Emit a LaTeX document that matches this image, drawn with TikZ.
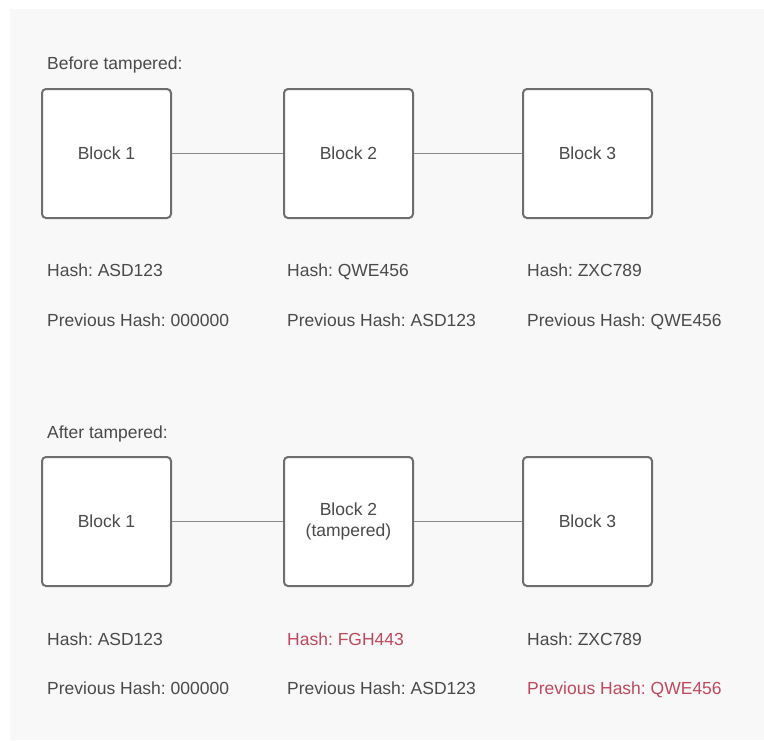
\documentclass[tikz,border=0pt]{standalone}
\usepackage{fontspec}
\setmainfont{Liberation Sans}
\frenchspacing
\definecolor{bgc}{HTML}{F8F8F8}
\definecolor{txt}{HTML}{4A4A4A}
\definecolor{edge}{HTML}{6E6E6E}
\definecolor{conn}{HTML}{8A8A8A}
\definecolor{redt}{HTML}{C0485C}
\tikzset{
  blockbox/.style={draw=edge, line width=2pt, fill=white, rounded corners=4pt,
    minimum width=129pt, minimum height=129pt, inner sep=0pt, anchor=north west,
    text=txt, align=center, font=\fontsize{17.5}{21}\selectfont},
  lbl/.style={anchor=base west, inner sep=0pt, text=txt, font=\fontsize{17.5}{21}\selectfont},
  redlbl/.style={lbl, text=redt},
  conn/.style={draw=conn, line width=1.5pt}
}
\begin{document}
\begin{tikzpicture}[x=1pt,y=-1pt]
\useasboundingbox (0,0) rectangle (764,740);
\fill[bgc] (10,9) rectangle (764,740);
% Before
\node[lbl] (t1) at (47,69.5) {Before tampered:};
\node[blockbox] (a1) at (41,88) {Block 1};
\node[blockbox] (a2) at (283,88) {Block 2};
\node[blockbox] (a3) at (522,88) {Block 3};
\draw[conn] (a1.east) -- (a2.west);
\draw[conn] (a2.east) -- (a3.west);
\node[lbl] (ah1) at (47,276.5) {Hash: ASD123};
\node[lbl] (ap1) at (47,326) {Previous Hash: 000000};
\node[lbl] (ah2) at (287,276.5) {Hash: QWE456};
\node[lbl] (ap2) at (287,326) {Previous Hash: ASD123};
\node[lbl] (ah3) at (527,276.5) {Hash: ZXC789};
\node[lbl] (ap3) at (527,326) {Previous Hash: QWE456};
% After
\node[lbl] (t2) at (47,438) {After tampered:};
\node[blockbox] (b1) at (41,456) {Block 1};
\node[blockbox] (b2) at (283,456) {Block 2\\(tampered)};
\node[blockbox] (b3) at (522,456) {Block 3};
\draw[conn] (b1.east) -- (b2.west);
\draw[conn] (b2.east) -- (b3.west);
\node[lbl] (bh1) at (47,645.5) {Hash: ASD123};
\node[lbl] (bp1) at (47,694.5) {Previous Hash: 000000};
\node[redlbl] (bh2) at (287,645.5) {Hash: FGH443};
\node[lbl] (bp2) at (287,694.5) {Previous Hash: ASD123};
\node[lbl] (bh3) at (527,645.5) {Hash: ZXC789};
\node[redlbl] (bp3) at (527,694.5) {Previous Hash: QWE456};
\end{tikzpicture}
\end{document}
